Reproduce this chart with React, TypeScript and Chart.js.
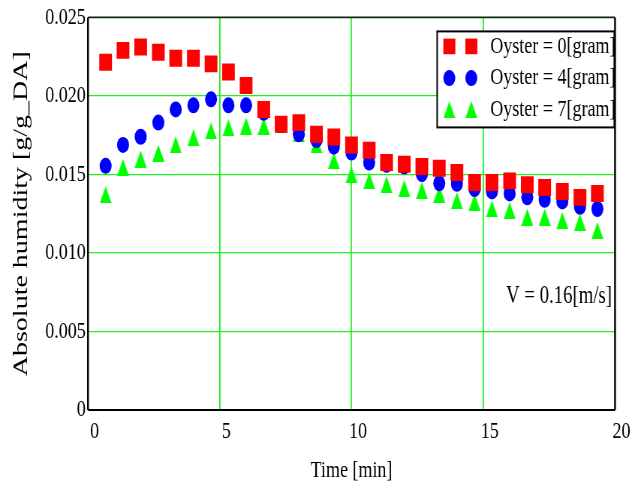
import React, { useEffect, useRef } from 'react';
import { Chart, registerables } from 'chart.js';

Chart.register(...registerables);

// ---------- data ----------
const TIME_MIN = [
  0.67, 1.33, 2.0, 2.67, 3.33, 4.0, 4.67, 5.33, 6.0, 6.67,
  7.33, 8.0, 8.67, 9.33, 10.0, 10.67, 11.33, 12.0, 12.67, 13.33,
  14.0, 14.67, 15.33, 16.0, 16.67, 17.33, 18.0, 18.67, 19.33,
];
const OYSTER_0 = [
  0.02215, 0.0229, 0.02312, 0.02278, 0.0224, 0.0224, 0.02204, 0.02153, 0.02067, 0.01914,
  0.0182, 0.0183, 0.01756, 0.01739, 0.01688, 0.01654, 0.01576, 0.01565, 0.0155, 0.0154,
  0.01512, 0.01449, 0.01449, 0.01459, 0.01434, 0.01417, 0.01392, 0.01354, 0.01379,
];
const OYSTER_4 = [
  0.01555, 0.01688, 0.0174, 0.0183, 0.01914, 0.0194, 0.01978, 0.0194, 0.0194, 0.01893,
  0.01815, 0.01756, 0.01718, 0.01677, 0.01639, 0.01576, 0.01561, 0.0155, 0.01502, 0.01444,
  0.0144, 0.01407, 0.01392, 0.01379, 0.01354, 0.01339, 0.01328, 0.01294, 0.0128,
];
const OYSTER_7 = [
  0.0137, 0.01544, 0.01597, 0.01635, 0.01688, 0.01734, 0.01777, 0.01798, 0.01808, 0.01808,
  0.0182, 0.0176, 0.01688, 0.01586, 0.01497, 0.01459, 0.01434, 0.0141, 0.01396, 0.01375,
  0.01332, 0.01322, 0.0128, 0.01269, 0.01227, 0.01227, 0.01206, 0.01195, 0.01142,
];
const SERIES_LABELS = ['Oyster = 0[gram]', 'Oyster = 4[gram]', 'Oyster = 7[gram]'];
const X_TICK_LABELS = ['0', '5', '10', '15', '20'];
const Y_TICK_LABELS = ['0', '0.005', '0.010', '0.015', '0.020', '0.025'];
const X_TITLE = 'Time [min]';
const Y_TITLE = 'Absolute humidity [g/g_DA]';
const NOTE_TEXT = 'V = 0.16[m/s]';
const NOTE_Y_VALUE = 0.0068;

// ---------- layout / style ----------
const CANVAS_W = 858;
const CANVAS_H = 489;
const VIEW_W = 644;
const VIEW_H = 489;
const PLOT_LEFT = 117.2;
const PLOT_RIGHT = 819.4;
const PLOT_TOP = 16;
const PLOT_BOTTOM = 410;
const FONT = 'Liberation Serif, Times New Roman, serif';
const RED = '#ff0000';
const BLUE = '#0000ff';
const GREEN = '#00ff00';
const GRID = '#22ee22';

function makeTriangle(color: string, w: number, h: number) {
  const c = document.createElement('canvas');
  c.width = w;
  c.height = h;
  const g = c.getContext('2d')!;
  g.fillStyle = color;
  g.beginPath();
  g.moveTo(w / 2, 0);
  g.lineTo(w, h);
  g.lineTo(0, h);
  g.closePath();
  g.fill();
  return c;
}

export default function App() {
  const ref = useRef<HTMLCanvasElement | null>(null);

  useEffect(() => {
    const canvas = ref.current;
    if (!canvas) return;
    const tri = makeTriangle(GREEN, 16, 17);

    const framePlugin = {
      id: 'frame',
      afterDatasetsDraw(chart: any) {
        const { ctx, chartArea: a } = chart;
        ctx.save();
        ctx.strokeStyle = '#000';
        ctx.lineWidth = 1.8;
        ctx.beginPath();
        ctx.moveTo(a.left, a.bottom);
        ctx.lineTo(a.right, a.bottom);
        ctx.stroke();
        ctx.strokeStyle = '#0a2a0a';
        ctx.beginPath();
        ctx.moveTo(a.left, a.top);
        ctx.lineTo(a.right, a.top);
        ctx.stroke();
        ctx.strokeStyle = '#000';
        ctx.lineWidth = 2.4;
        ctx.beginPath();
        ctx.moveTo(a.left, a.top);
        ctx.lineTo(a.left, a.bottom);
        ctx.moveTo(a.right, a.top);
        ctx.lineTo(a.right, a.bottom);
        ctx.stroke();
        ctx.restore();
      },
    };

    const notePlugin = {
      id: 'note',
      afterDraw(chart: any) {
        const { ctx, chartArea: a } = chart;
        const y = chart.scales.y.getPixelForValue(NOTE_Y_VALUE);
        ctx.save();
        ctx.fillStyle = '#000';
        ctx.font = `25px ${FONT}`;
        ctx.textAlign = 'right';
        ctx.textBaseline = 'alphabetic';
        ctx.fillText(NOTE_TEXT, a.right - 4, y);
        ctx.restore();
      },
    };

    const legendPlugin = {
      id: 'boxLegend',
      afterDraw(chart: any) {
        const { ctx, chartArea: a } = chart;
        const bx = a.right - 237;
        const by = a.top + 14;
        const bw = 236;
        const bh = 96;
        ctx.save();
        ctx.fillStyle = '#fff';
        ctx.fillRect(bx, by, bw, bh);
        ctx.strokeStyle = '#000';
        ctx.lineWidth = 2;
        ctx.strokeRect(bx, by, bw, bh);
        const rowY = [by + 15, by + 46.7, by + 78.3];
        const mx = [bx + 16.2, bx + 45.5];
        chart.data.datasets.forEach((ds: any, i: number) => {
          const cy = rowY[i];
          mx.forEach((cx) => {
            if (i === 0) {
              ctx.fillStyle = RED;
              ctx.fillRect(cx - 8, cy - 7.8, 16, 15.6);
            } else if (i === 1) {
              ctx.fillStyle = BLUE;
              ctx.beginPath();
              ctx.arc(cx, cy, 8, 0, Math.PI * 2);
              ctx.fill();
            } else {
              ctx.drawImage(tri, cx - 8, cy - 8.5, 16, 17);
            }
          });
          ctx.fillStyle = '#000';
          ctx.font = `24px ${FONT}`;
          ctx.textAlign = 'left';
          ctx.textBaseline = 'middle';
          ctx.fillText(ds.label, bx + 70.8, cy);
        });
        ctx.restore();
      },
    };

    const tickFont = { family: FONT, size: 24 };

    const chart = new Chart(canvas, {
      type: 'scatter',
      data: {
        datasets: [
          {
            label: SERIES_LABELS[0],
            data: TIME_MIN.map((x, i) => ({ x, y: OYSTER_0[i] })),
            pointStyle: 'rect',
            pointRadius: 12,
            pointBackgroundColor: RED,
            pointBorderWidth: 0,
            pointBorderColor: RED,
            showLine: false,
          },
          {
            label: SERIES_LABELS[1],
            data: TIME_MIN.map((x, i) => ({ x, y: OYSTER_4[i] })),
            pointStyle: 'circle',
            pointRadius: 8,
            pointBackgroundColor: BLUE,
            pointBorderWidth: 0,
            pointBorderColor: BLUE,
            showLine: false,
          },
          {
            label: SERIES_LABELS[2],
            data: TIME_MIN.map((x, i) => ({ x, y: OYSTER_7[i] })),
            pointStyle: tri as any,
            pointRadius: 9,
            pointBackgroundColor: GREEN,
            pointBorderWidth: 0,
            pointBorderColor: GREEN,
            showLine: false,
          },
        ],
      },
      options: {
        responsive: false,
        animation: false,
        devicePixelRatio: 1,
        events: [],
        layout: {
          padding: { left: 0, right: CANVAS_W - PLOT_RIGHT, top: PLOT_TOP, bottom: 0 },
        },
        plugins: {
          legend: { display: false },
          tooltip: { enabled: false },
        },
        scales: {
          x: {
            type: 'linear',
            min: 0,
            max: 20,
            ticks: {
              stepSize: 5,
              autoSkip: false,
              maxRotation: 0,
              color: '#000',
              font: tickFont,
              padding: 7.4,
              labelOffset: 8.7,
              callback: (_v: any, i: number) => X_TICK_LABELS[i] ?? '',
            },
            grid: {
              drawTicks: false,
              lineWidth: 1.8,
              color: (c: any) =>
                c.index === 0 || c.index === c.scale.ticks.length - 1 ? 'rgba(0,0,0,0)' : GRID,
            },
            border: { display: false },
            title: {
              display: true,
              text: X_TITLE,
              color: '#000',
              font: { family: FONT, size: 24 },
              padding: { top: 0, bottom: 3.7 },
            },
            afterFit: (s: any) => {
              s.height = CANVAS_H - PLOT_BOTTOM;
            },
          },
          y: {
            type: 'linear',
            min: 0,
            max: 0.025,
            ticks: {
              stepSize: 0.005,
              autoSkip: false,
              color: '#000',
              font: tickFont,
              padding: 3,
              callback: (_v: any, i: number) => Y_TICK_LABELS[i] ?? '',
            },
            grid: {
              drawTicks: false,
              lineWidth: 1.3,
              color: (c: any) =>
                c.index === 0 || c.index === c.scale.ticks.length - 1 ? 'rgba(0,0,0,0)' : GRID,
            },
            border: { display: false },
            title: {
              display: true,
              text: Y_TITLE,
              color: '#000',
              font: { family: FONT, size: 28 },
              padding: { top: 11.6, bottom: 0 },
            },
            afterFit: (s: any) => {
              s.width = PLOT_LEFT;
            },
          },
        },
      } as any,
      plugins: [framePlugin, notePlugin, legendPlugin],
    });

    return () => chart.destroy();
  }, []);

  return (
    <canvas
      ref={ref}
      width={CANVAS_W}
      height={CANVAS_H}
      style={{
        position: 'absolute',
        left: 0,
        top: 0,
        width: `${VIEW_W}px`,
        height: `${VIEW_H}px`,
        display: 'block',
      }}
    />
  );
}
